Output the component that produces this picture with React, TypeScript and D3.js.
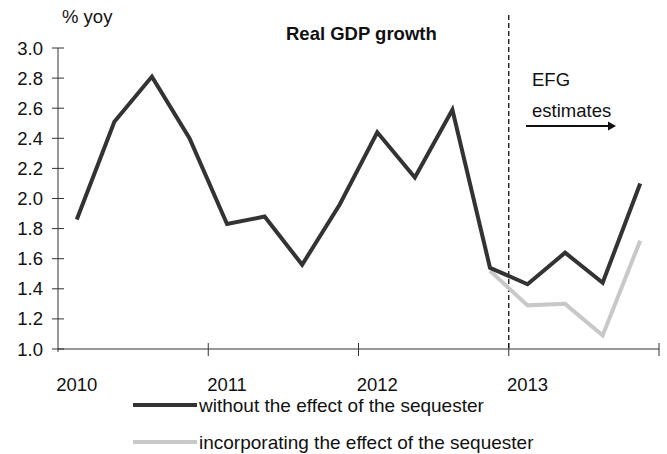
import React from "react";
import * as d3 from "d3";

const quarters = [
  "2010Q1","2010Q2","2010Q3","2010Q4",
  "2011Q1","2011Q2","2011Q3","2011Q4",
  "2012Q1","2012Q2","2012Q3","2012Q4",
  "2013Q1","2013Q2","2013Q3","2013Q4",
];
const yearLabels = ["2010", "2011", "2012", "2013"];
const withoutSequester = [1.86, 2.51, 2.81, 2.40, 1.83, 1.88, 1.56, 1.96, 2.44, 2.14, 2.59, 1.54, 1.43, 1.64, 1.44, 2.10];
const withSequester: (number | null)[] = [null, null, null, null, null, null, null, null, null, null, null, 1.52, 1.29, 1.30, 1.09, 1.72];
const yTicks = [1.0, 1.2, 1.4, 1.6, 1.8, 2.0, 2.2, 2.4, 2.6, 2.8, 3.0];
const seriesNames = ["without the effect of the sequester", "incorporating the effect of the sequester"];

const FONT = "'Liberation Sans', Arial, sans-serif";

export default function App() {
  const x = d3.scaleBand<string>().domain(quarters).range([58, 659]).padding(0);
  const cx = (q: string) => (x(q) as number) + x.bandwidth() / 2;
  const y = d3.scaleLinear().domain([1, 3]).range([349, 48]);

  const line = d3
    .line<{ q: string; v: number | null }>()
    .defined((d) => d.v !== null)
    .x((d) => cx(d.q))
    .y((d) => y(d.v as number));

  const darkData = quarters.map((q, i) => ({ q, v: withoutSequester[i] }));
  const greyData = quarters.map((q, i) => ({ q, v: withSequester[i] }));

  const yearTickX = yearLabels.map((yr) => x(yr + "Q1") as number);
  const endX = 659;
  const dashX = x("2013Q1") as number;

  return (
    <svg width={667} height={454} style={{ position: "absolute", left: 0, top: 0, background: "#fff" }}>
      <g fontFamily={FONT} fill="#111">
        {/* y axis */}
        <line x1={58} x2={58} y1={y(3)} y2={y(1) + 3} stroke="#333" strokeWidth={1} />
        {yTicks.map((t) => (
          <g key={t}>
            <line x1={52} x2={64} y1={y(t)} y2={y(t)} stroke="#333" strokeWidth={1} />
            <text x={43} y={y(t)} textAnchor="end" dominantBaseline="central" fontSize={18.5}>
              {t.toFixed(1)}
            </text>
          </g>
        ))}
        {/* x axis */}
        <line x1={58} x2={endX} y1={y(1)} y2={y(1)} stroke="#333" strokeWidth={1} />
        {[...yearTickX.slice(1), endX].map((tx, i) => (
          <line key={i} x1={tx} x2={tx} y1={y(1) - 6} y2={y(1) + 7} stroke="#333" strokeWidth={1} />
        ))}
        {yearLabels.map((yr) => (
          <text key={yr} x={cx(yr + "Q1")} y={391} textAnchor="middle" fontSize={18.5}>
            {yr}
          </text>
        ))}
        {/* dashed separator */}
        <line x1={dashX} x2={dashX} y1={15} y2={y(1)} stroke="#111" strokeWidth={1.3} strokeDasharray="5,3" />
        {/* series */}
        <path d={line(greyData) || ""} fill="none" stroke="#c8c8c8" strokeWidth={4} strokeLinejoin="miter" />
        <path d={line(darkData) || ""} fill="none" stroke="#333333" strokeWidth={4} strokeLinejoin="miter" />
        {/* titles */}
        <text x={62} y={23} fontSize={18.5}>% yoy</text>
        <text x={286} y={40} fontSize={18.5} fontWeight="bold">
          Real GDP growth
        </text>
        <text x={532} y={86} fontSize={18.5}>EFG</text>
        <text x={532} y={117} fontSize={18.5}>estimates</text>
        <line x1={526} x2={609} y1={126} y2={126} stroke="#111" strokeWidth={2} />
        <path d="M608,121.5 L616,126 L608,130.5 Z" fill="#111" />
        {/* legend */}
        <line x1={133} x2={197} y1={405} y2={405} stroke="#333333" strokeWidth={4} />
        <text x={199} y={405} dominantBaseline="central" fontSize={19}>{seriesNames[0]}</text>
        <line x1={133} x2={197} y1={442} y2={442} stroke="#c8c8c8" strokeWidth={4} />
        <text x={199} y={442} dominantBaseline="central" fontSize={19}>{seriesNames[1]}</text>
      </g>
    </svg>
  );
}
